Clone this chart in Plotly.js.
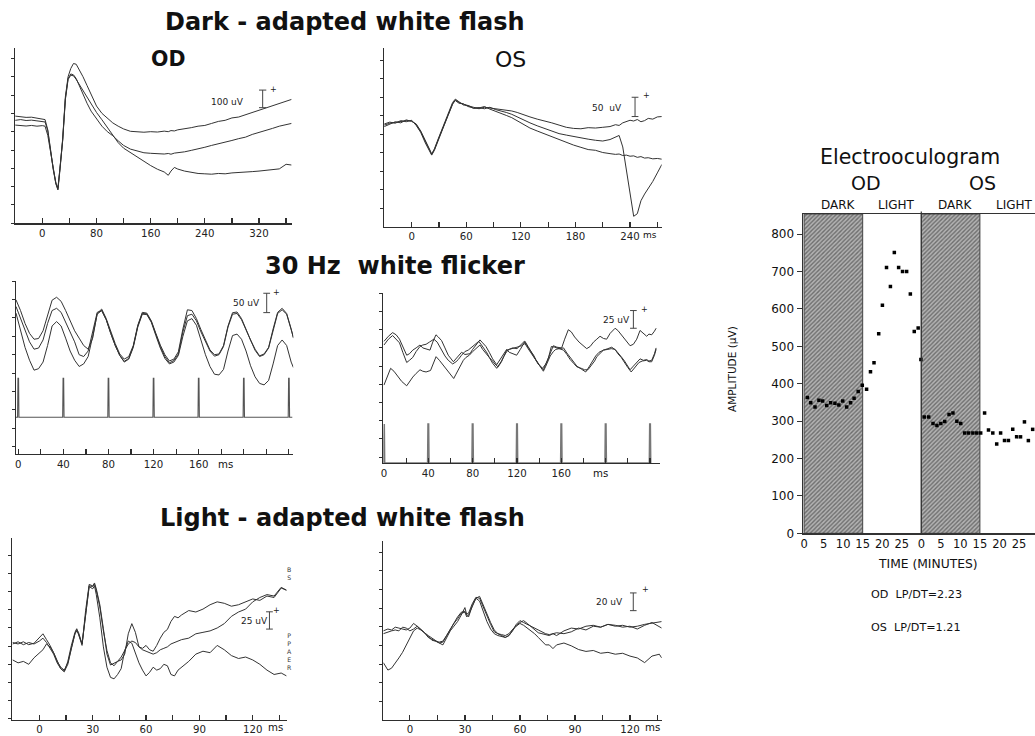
<!DOCTYPE html>
<html><head><meta charset="utf-8">
<script src="https://cdn.plot.ly/plotly-3.0.1.min.js"></script>
<style>html,body{margin:0;padding:0;background:#fff;}#chart{width:1035px;height:736px;}</style>
</head><body><div id="chart"></div>
<script>
// ---------------- DATA ----------------
// Panel 1: OD dark-adapted white flash (ms, uV)
const odDarkMs = [-40,-32,-24,-16,-8,0,4,8,12,16,20,23,26,30,34,38,42,46,50,55,60,66,72,80,88,96,104,112,120,130,140,150,160,170,180,186,190,195,200,210,220,230,240,250,260,270,280,290,300,310,320,330,340,350,360,368];
const odDarkA = [585,581,578,579,574,572,566,510,400,300,220,192,300,460,690,800,845,872,868,835,800,752,700,640,600,572,548,530,515,502,498,497,500,498,503,500,506,504,510,515,522,530,534,545,556,562,575,580,592,605,616,628,642,654,668,676];
const odDarkB = [562,566,561,563,559,557,553,505,395,295,215,182,290,455,680,790,815,810,790,745,700,655,612,568,530,500,478,450,425,405,393,385,382,380,378,381,377,383,385,390,398,405,415,425,433,443,452,462,470,485,495,508,518,530,540,545];
const odDarkC = [536,533,531,534,530,533,530,480,385,290,218,186,285,450,675,785,808,805,785,755,725,690,650,605,565,525,480,440,410,385,360,338,315,295,280,262,285,305,296,285,278,272,270,268,272,270,275,276,278,282,285,288,292,297,322,318];
const odDarkTicks = [0,40,80,120,160,200,240,280,320,360];
const odDarkTickText = ['0','','80','','160','','240','','320',''];

// Panel 2: OS dark-adapted white flash
const osDarkMs = [-30,-24,-18,-12,-6,0,5,10,15,20,22,25,30,35,40,45,48,52,57,62,68,74,80,86,92,98,104,110,116,122,130,138,146,154,162,170,178,186,194,202,210,218,224,228,232,236,240,244,248,252,256,260,265,270,275];
const osDarkA = [274,279,281,284,286,285,275,256,228,205,195,208,240,272,300,330,342,335,330,326,322,318,322,320,318,316,315,312,308,302,296,290,286,280,274,268,265,264,267,266,268,270,275,273,280,283,287,285,289,283,286,292,290,296,297];
const osDarkB = [277,282,279,286,283,287,273,254,226,203,193,206,238,270,302,332,340,333,331,324,320,321,318,322,316,313,308,303,296,288,280,272,265,257,251,247,243,238,236,233,231,235,242,246,215,150,80,28,35,70,88,103,122,145,168];
const osDarkC = [270,276,283,280,288,284,277,258,230,207,196,210,242,274,305,335,344,337,328,327,319,320,324,317,312,307,300,294,285,276,266,258,250,242,234,226,220,214,208,206,200,197,195,196,192,193,190,191,187,189,185,186,183,184,182];
const osDarkTicks = [0,30,60,90,120,150,180,210,240,270];
const osDarkTickText = ['0','','60','','120','','180','','240',''];

// Panel 3: OD 30 Hz flicker
const odFlkMs = [-2,2,6,10,14,18,22,26,30,34,38,42,46,50,54,58,62,66,70,74,78,82,86,90,94,98,102,106,110,114,118,122,126,130,134,138,142,146,150,154,158,162,166,170,174,178,182,186,190,194,198,202,206,210,214,218,222,226,230,234,238,242,244];
const odFlkA = [319,290,255,228,212,214,235,280,318,326,315,290,262,235,215,195,185,215,282,294,268,232,200,172,158,165,195,250,285,283,262,228,196,170,153,158,178,240,292,290,268,238,210,183,170,172,195,248,284,286,268,238,210,185,167,172,190,240,285,296,282,240,215];
const odFlkB = [301,270,235,205,185,188,210,255,290,296,285,258,230,205,170,165,180,230,285,290,265,228,195,168,152,160,192,248,282,281,260,226,192,165,148,154,172,232,276,280,262,232,205,180,166,170,192,245,280,282,265,236,208,182,165,170,188,238,282,292,280,238,217];
const odFlkC = [283,240,190,155,128,132,150,195,248,260,248,215,180,155,138,145,165,220,280,290,265,228,195,168,150,158,190,245,280,279,258,222,188,160,145,150,168,220,262,268,250,210,170,138,117,115,130,180,222,226,212,180,140,110,92,88,100,145,195,210,195,150,135];
const odStimTimes = [0,40,80,120,160,200,240];
const odStimPeak = 106;
const flkTicks = [0,20,40,60,80,100,120,140,160,180,200,220,240];
const flkTickText = ['0','','40','','80','','120','','160','','','',''];

// Panel 4: OS 30 Hz flicker
const osFlkAx = [0,4,7.8,11,14,17,20.5,23,26,29,32.5,35,38,41.5,44,46.9,49,52,55,58,62.6,65,67,70,73,77.6,80,83,86.6,89,92,95,98,101.7,104,107,110.7,113,116,119.7,123,127.2,130,133,136,139,143.8,146,149,152.8,156,160.3,163,166.3,169,172,176,179,182.9,186,189,192,194.9,198,200.9,204,208.5,211,214,217,220,222,225,228,231,234,237,239,241.5,244,245.5];
const osFlkAy = [167,174,179,176,170,160,148,150,155,158,162,158,157,155,166,176,173,168,158,148,139,143,146,152,149,150,156,162,169,165,160,152,143,135,140,147,156,152,150,148,156,167,160,152,144,136,128,136,147,161,159,158,170,183,180,173,166,162,157,160,166,170,174,171,170,178,185,182,176,170,165,161,163,170,182,178,174,177,176,181,185];
const osFlkBx = [0,4,7.8,11,14,17,20.5,23,26,29,32.5,35,38,41,45,48,50,53,55,58,62,65,67,70,73,76,80,83,85.5,88,90,93,95,98,101.7,104,106,108,110.7,113,116,120,123,126.6,129,132,135,137,140,143,146,148,151,154,156,159,162,165,168,171,174,178,181,184,187,190,192,194.9,198,202,205.5,209,212,214,217,220,222,225,228,231,234,237,239,241.5,244,245.5];
const osFlkBy = [162,170,175,170,165,152,138,141,145,153,160,162,163,166,170,166,160,152,147,141,136,139,142,148,153,155,160,164,167,162,158,151,145,137,130,135,140,146,153,156,158,157,162,167,161,155,148,142,135,130,136,142,160,159,158,156,155,149,142,137,132,130,128,128,134,140,146,151,155,157,159,155,150,146,140,133,128,133,138,143,141,142,140,141,150,158];
const osFlkCx = [0,3,6,9,12,16,20.5,23,26,29,32.5,35,38,42,45,47,50,53,57,60,62.9,65,67,70,71.6,74,77,80,83,86.6,89,92,95,98,100,103,106,108,110.7,113,116,120,124,127.2,130,133,136,138,141,143.8,146,148,150,152.8,155,158,162,165,168,171,174,178,182,185,188,191,194,198,202,205,208.5,211,214,217,220,223,226,230,233,237,239,241.5,244,245.5];
const osFlkCy = [107,118,130,126,120,112,106,112,118,123,128,126,125,127,137,146,141,135,127,121,116,122,128,136,141,145,148,153,157,162,156,150,145,140,136,132,139,146,155,156,157,159,161,164,157,150,143,138,132,126,133,140,147,153,156,157,158,151,145,139,133,129,125,132,140,147,152,155,156,157,156,150,145,137,131,125,131,138,140,141,139,139,148,156];
const osStimTimes = [0,40,80,120,160,200,240];
const osStimPeak = 53.6;

// Panel 5: OD light-adapted white flash
const odLightMs = [-15,-12,-9,-6,-3,0,2,4,6,8,10,12,14,16,18,20,21,22,24,26,27,28,30,31,32,34,36,38,40,42,44,46,48,50,52,54,56,58,60,62,64,66,68,70,72,74,76,78,80,84,88,92,96,100,104,108,112,116,120,124,128,132,136,139];
const odLightA = [106,104,107,103,105,112,118,110,102,92,80,72,68,78,100,118,124,120,104,148,170,184,183,186,178,155,122,95,78,74,80,82,90,118,132,120,100,98,102,96,94,102,112,120,124,135,142,140,144,150,148,152,158,162,160,156,158,162,166,164,170,168,181,178];
const odLightB = [104,107,103,106,104,108,112,106,98,90,78,70,66,80,102,120,125,118,102,150,172,186,184,188,180,158,125,90,75,78,80,86,95,104,108,106,100,96,94,92,90,92,96,98,100,104,106,108,110,112,118,120,122,126,132,142,148,152,162,168,172,170,182,178];
const odLightC = [82,78,80,76,85,92,96,104,100,92,80,70,66,76,98,118,122,118,104,146,168,183,180,184,172,140,100,72,58,56,62,70,95,108,105,90,78,68,60,65,72,68,70,76,74,62,60,68,72,80,90,94,92,102,96,88,84,86,82,76,68,62,64,60];
const lightTicks = [0,15,30,45,60,75,90,105,120,135];
const lightTickText = ['0','','30','','60','','90','','120',''];

// Panel 6: OS light-adapted white flash
const osLightMs = [-14.5,-12,-10,-8,-6,-4,-2,0,2,4,6,8,10,12,14,16,18,20,22,24,26,28,30,31,32,34,36,38,40,42,44,46,48,50,52,54,56,58,60,62,64,66,68,70,72,74,76,78,80,84,88,92,96,100,104,108,112,116,120,124,128,132,136,137.3];
const osLightA = [95,97,96,99,98,97,96,98,103,100,96,93,90,87,85,82,80,88,95,100,105,112,120,112,110,122,130,132,122,112,104,96,92,90,88,90,95,102,106,104,102,100,98,96,94,92,91,92,90,95,98,97,100,101,99,102,100,101,99,100,102,103,104,105];
const osLightB = [92,94,95,96,95,99,98,95,97,100,97,93,88,86,84,83,84,90,97,104,110,115,116,113,114,124,131,130,120,110,102,94,92,91,90,92,97,101,104,106,103,100,97,93,92,91,90,92,93,92,94,98,96,100,99,102,101,99,100,97,101,104,100,98];
const osLightC = [61,53,55,60,66,72,80,88,95,98,96,93,89,85,84,82,83,90,96,103,108,114,115,110,112,122,130,127,116,105,97,92,90,89,88,90,96,100,103,101,98,95,92,88,84,80,80,76,80,82,79,75,73,74,71,72,70,71,68,66,61,68,70,66];

// Panel 7: Electrooculogram (minutes, uV)
const odEogMin = [0.85,1.7,2.8,3.8,4.75,5.8,6.8,7.9,8.9,9.9,10.9,11.9,12.8,13.85,14.9,16.0,17.0,17.9,19.1,20.05,21.1,22.1,23.1,24.2,25.2,26.25,27.2,28.2,29.2,29.9];
const odEogAmp = [363,349,338,356,354,342,349,348,343,354,338,349,361,379,396,385,432,456,534,610,711,660,751,711,700,700,640,540,549,465];
const osEogMin = [0.75,1.9,3.0,4.0,5.0,6.0,7.1,8.1,9.1,10.1,11.1,12.1,13.2,14.2,15.2,16.2,17.2,18.3,19.3,20.3,21.3,22.3,23.4,24.4,25.4,26.4,27.4,28.5];
const osEogAmp = [311,311,294,288,294,299,318,322,300,294,268,268,268,268,268,322,276,268,239,268,248,248,278,258,258,298,248,278];
const eogPhases = ['DARK','LIGHT'];
const phaseStart = [0,15];
const phaseEnd = [15,30];
const eyeNames = ['OD','OS'];
const eyeOffset = [0,30];
const eogTickMin = [0,5,10,15,20,25];
const eogYMax = 854;

// ---------------- LAYOUT HELPERS ----------------
const W=1035,H=736;
const FONT='DejaVu Sans, Liberation Sans, Arial, sans-serif';
const AX='#2e2e2e', TR='#333333';
const dx=(a,b)=>[a/W,b/W];
const dy=(t,b)=>[1-b/H,1-t/H];
const traces=[], shapes=[], annotations=[];

function line(x,y,n,opts){
  const k=n===1?'':n;
  traces.push(Object.assign({type:'scatter',mode:'lines',x,y,xaxis:'x'+k,yaxis:'y'+k,
    line:{color:TR,width:1},hoverinfo:'skip',showlegend:false},opts||{}));
}
function stimTrace(times,peak,x0,x1,n,color,width){
  const xs=[x0],ys=[0];
  times.forEach(t=>{xs.push(t-0.6,t-0.25,t+0.25,t+0.6);ys.push(0,peak,peak,0);});
  xs.push(x1);ys.push(0);
  line(xs,ys,n,{line:{color,width}});
}
function ergX(dom,range,anchor,vals,texts){
  return {domain:dom,range,anchor,showline:true,linecolor:AX,linewidth:1.3,ticks:'inside',ticklen:5,
    tickwidth:1.2,tickcolor:AX,tickvals:vals,ticktext:texts,tickfont:{family:FONT,size:10.2,color:'#222'},
    showgrid:false,zeroline:false,fixedrange:true};
}
function ergY(dom,range,anchor,tick0,dtick){
  return {domain:dom,range,anchor,showline:true,linecolor:AX,linewidth:1.3,ticks:'outside',ticklen:3,
    tickwidth:1,tickcolor:AX,tick0,dtick,showticklabels:false,showgrid:false,zeroline:false,fixedrange:true};
}
function ann(text,x,y,size,extra){
  annotations.push(Object.assign({text,x:x/W,y:1-y/H,xref:'paper',yref:'paper',showarrow:false,
    xanchor:'center',yanchor:'middle',font:{family:FONT,size,color:'#111'}},extra||{}));
}
function scaleBar(n,xc,y0,y1,half,label,lx,ly,plx,ply){
  const k=n===1?'':n, xr='x'+k, yr='y'+k, ln={color:'#444',width:1};
  shapes.push({type:'line',xref:xr,yref:yr,x0:xc,x1:xc,y0,y1,line:ln});
  shapes.push({type:'line',xref:xr,yref:yr,x0:xc-half,x1:xc+half,y0,y1:y0,line:ln});
  shapes.push({type:'line',xref:xr,yref:yr,x0:xc-half,x1:xc+half,y0:y1,y1,line:ln});
  annotations.push({text:label,x:lx,y:ly,xref:xr,yref:yr,showarrow:false,font:{family:FONT,size:9,color:'#222'}});
  annotations.push({text:'+',x:plx,y:ply,xref:xr,yref:yr,showarrow:false,font:{family:FONT,size:8,color:'#222'}});
}

// ---------------- TRACES ----------------
[odDarkA,odDarkB,odDarkC].forEach(y=>line(odDarkMs,y,1));
[osDarkA,osDarkB,osDarkC].forEach(y=>line(osDarkMs,y,2));
[odFlkA,odFlkB,odFlkC].forEach(y=>line(odFlkMs,y,3));
stimTrace(odStimTimes,odStimPeak,-2,243,3,'#555',1.1);
line(osFlkAx,osFlkAy,4); line(osFlkBx,osFlkBy,4); line(osFlkCx,osFlkCy,4);
stimTrace(osStimTimes,osStimPeak,-0.6,0,4,'#777',1.6);
[odLightA,odLightB,odLightC].forEach(y=>line(odLightMs,y,5));
[osLightA,osLightB,osLightC].forEach(y=>line(osLightMs,y,6));

// EOG dark bars (hatched)
const darkX=[], darkW=[], darkY=[];
eyeOffset.forEach(o=>{darkX.push(o+(phaseStart[0]+phaseEnd[0])/2);darkW.push(phaseEnd[0]-phaseStart[0]);darkY.push(eogYMax);});
traces.push({type:'bar',x:darkX,y:darkY,width:darkW,base:0,xaxis:'x7',yaxis:'y7',hoverinfo:'skip',showlegend:false,
  marker:{color:'#aaaaaa',pattern:{shape:'/',fgcolor:'#6e6e6e',bgcolor:'#b3b3b3',size:3,solidity:0.45},line:{color:'#444',width:1}}});
traces.push({type:'scatter',mode:'markers',x:odEogMin.map(t=>t+eyeOffset[0]),y:odEogAmp,xaxis:'x7',yaxis:'y7',
  marker:{color:'#000',size:3.5,symbol:'square'},hoverinfo:'skip',showlegend:false});
traces.push({type:'scatter',mode:'markers',x:osEogMin.map(t=>t+eyeOffset[1]),y:osEogAmp,xaxis:'x7',yaxis:'y7',
  marker:{color:'#000',size:3.5,symbol:'square'},hoverinfo:'skip',showlegend:false});

// ---------------- LAYOUT ----------------
const eogTickVals=[], eogTickText=[];
eyeOffset.forEach(o=>eogTickMin.forEach(t=>{eogTickVals.push(t+o);eogTickText.push(String(t));}));

const layout={
  width:W,height:H,margin:{l:0,r:0,t:0,b:0},paper_bgcolor:'#fff',plot_bgcolor:'rgba(0,0,0,0)',
  showlegend:false,bargap:0,font:{family:FONT,color:'#111'},
  xaxis: ergX(dx(15,291.7),[-40.4,368.3],'y',odDarkTicks,odDarkTickText),
  yaxis: ergY(dy(48.3,223.3),[0,955],'x',0,100),
  xaxis2:ergX(dx(384,661.7),[-30.4,274.8],'y2',osDarkTicks,osDarkTickText),
  yaxis2:ergY(dy(48.3,226.7),[0,481],'x2',-1,50),
  xaxis3:ergX(dx(16,293.3),[-2,243.9],'y3',flkTicks,flkTickText),
  yaxis3:ergY(dy(280.7,454),[-99.7,371],'x3',20,50),
  xaxis4:ergX(dx(383.3,660),[-0.6,249],'y4',flkTicks,flkTickText),
  yaxis4:ergY(dy(293.3,463),[0,233],'x4',8,25),
  xaxis5:ergX(dx(12,286.7),[-15.4,139.1],'y5',lightTicks,lightTickText),
  yaxis5:ergY(dy(538.3,719.5),[0,249.5],'x5',1,25),
  xaxis6:ergX(dx(383.3,661.7),[-14.5,137.3],'y6',lightTicks,lightTickText),
  yaxis6:ergY(dy(540.7,719.5),[0,191.7],'x6',19.3,20),
  xaxis7:{domain:dx(802.7,1035),range:[-0.35,59.1],anchor:'y7',showline:true,mirror:true,linecolor:'#333',linewidth:1.2,
    ticks:'',tickvals:eogTickVals,ticktext:eogTickText,tickfont:{family:FONT,size:11.5,color:'#111'},
    showgrid:false,zeroline:false,fixedrange:true},
  yaxis7:{domain:dy(214,533.3),range:[0,eogYMax],anchor:'x7',showline:true,linecolor:'#333',linewidth:1.2,
    ticks:'outside',ticklen:5,tickcolor:'#333',dtick:100,tick0:0,tickfont:{family:FONT,size:12,color:'#111'},
    showgrid:false,zeroline:false,fixedrange:true},
  shapes,annotations
};

// EOG divider between OD and OS
shapes.push({type:'line',xref:'x7',yref:'y7 domain',x0:eyeOffset[1],x1:eyeOffset[1],y0:0,y1:1.008,line:{color:'#333',width:1.2}});

// scale bars
scaleBar(1,325.4,631,727,5.4,'100 uV',274,664,342,731);
scaleBar(2,245.5,297,349,3.7,'50\u00a0 uV',215,321,257.6,355);
scaleBar(3,220.3,284.3,336.9,3,'50 uV',202.6,309.7,228.6,338.8);
scaleBar(4,225,185,209.3,3,'25 uV',210,196.4,234.6,211);
scaleBar(5,129.4,124.5,148.3,1.9,'25 uV',120.8,135.5,133.5,150);
scaleBar(6,121.8,116.7,135.7,1.8,'20 uV',108.7,125.7,128.2,139.2);

// titles
const BOLD={family:FONT,size:24,color:'#111',weight:'bold'};
ann('<b>Dark - adapted white flash</b>',345,22,24,{font:BOLD});
ann('<b>30 Hz\u00a0 white flicker</b>',395,266,24,{font:BOLD});
ann('<b>Light - adapted white flash</b>',342,518,24,{font:BOLD});
ann('<b>OD</b>',167.5,59,20.5);
ann('OS',510,59,22);
// unit labels
ann('ms',650,235,9);
ann('ms',225,464,10.2);
ann('ms',600,473,10.2);
ann('ms',275,727,10.2);
ann('ms',652,727,10.2);
ann('B<br>S',289.3,573,6.2,{font:{family:FONT,size:6.2,color:'#333'}});
ann('P<br>P<br>A<br>E<br>R',289.3,651,6.2,{font:{family:FONT,size:6.2,color:'#333'}});
// EOG texts
ann('Electrooculogram',910,157,20.5);
eyeNames.forEach((e,i)=>{
  const c=eyeOffset[i]+15;
  annotations.push({text:e,x:c,xref:'x7',y:1-183/H,yref:'paper',yanchor:'middle',xanchor:'center',showarrow:false,xshift:3,font:{family:FONT,size:19,color:'#111'}});
  eogPhases.forEach((p,j)=>{
    const m=eyeOffset[i]+(phaseStart[j]+phaseEnd[j])/2;
    annotations.push({text:p,x:m,xref:'x7',y:1-205/H,yref:'paper',yanchor:'middle',xanchor:'center',showarrow:false,xshift:5,font:{family:FONT,size:12,color:'#111'}});
  });
});
ann('AMPLITUDE (\u00b5V)',732,369,10.5,{textangle:-90});
ann('TIME (MINUTES)',928,564,12.3);
ann('OD\u00a0 LP/DT=2.23',916,594,11.2);
ann('OS\u00a0 LP/DT=1.21',916,627,11.2);

Plotly.newPlot('chart',traces,layout,{displayModeBar:false,staticPlot:true});
</script></body></html>
